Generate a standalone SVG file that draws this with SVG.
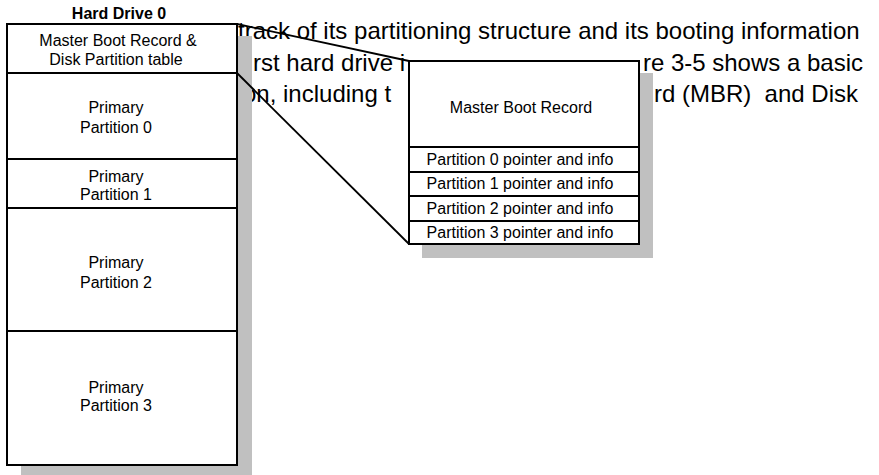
<svg xmlns="http://www.w3.org/2000/svg" width="879" height="475" viewBox="0 0 879 475">
<style>
.body{font-family:"Liberation Sans",Arial,sans-serif;font-size:24px;fill:#000;white-space:pre}
.lbl{font-family:"Liberation Sans",Arial,sans-serif;font-size:16px;fill:#000;text-anchor:middle}
.ttl{font-family:"Liberation Sans",Arial,sans-serif;font-size:16px;font-weight:bold;fill:#000;text-anchor:middle}
.box{fill:#fff;stroke:#000;stroke-width:2}
.div{stroke:#000;stroke-width:2;fill:none}
.shadow{fill:#c0c0c0}
.conn{stroke:#000;stroke-width:1.8;fill:none}
</style>
<rect width="879" height="475" fill="#fff"/>
<g id="background-text">
<text class="body" x="238" y="39">track of its partitioning structure and its booting information</text>
<text class="body" x="253" y="71">rst hard drive i</text>
<text class="body" x="863" y="71" text-anchor="end">re 3-5 shows a basic</text>
<text class="body" x="243" y="102">on, including t</text>
<text class="body" x="858" y="102" text-anchor="end">rd (MBR)  and Disk</text>
</g>
<g id="hard-drive-0">
<text class="ttl" x="119" y="19">Hard Drive 0</text>
<rect class="shadow" x="21" y="36" width="231" height="441"/>
<rect class="box" x="7" y="24" width="230" height="441"/>
<line class="div" x1="7" y1="73" x2="237" y2="73"/>
<line class="div" x1="7" y1="159" x2="237" y2="159"/>
<line class="div" x1="7" y1="208" x2="237" y2="208"/>
<line class="div" x1="7" y1="331" x2="237" y2="331"/>
<text class="lbl" x="118" y="46">Master Boot Record &amp;</text>
<text class="lbl" x="116" y="65">Disk Partition table</text>
<text class="lbl" x="116" y="113">Primary</text>
<text class="lbl" x="116" y="133">Partition 0</text>
<text class="lbl" x="116" y="182">Primary</text>
<text class="lbl" x="116" y="200">Partition 1</text>
<text class="lbl" x="116" y="268">Primary</text>
<text class="lbl" x="116" y="288">Partition 2</text>
<text class="lbl" x="116" y="393">Primary</text>
<text class="lbl" x="116" y="411">Partition 3</text>
</g>
<g id="mbr-detail">
<rect class="shadow" x="422" y="73" width="231" height="185"/>
<rect class="box" x="409" y="61" width="230" height="183"/>
<line class="div" x1="409" y1="147" x2="639" y2="147"/>
<line class="div" x1="409" y1="172" x2="639" y2="172"/>
<line class="div" x1="409" y1="196" x2="639" y2="196"/>
<line class="div" x1="409" y1="221" x2="639" y2="221"/>
<text class="lbl" x="521" y="113">Master Boot Record</text>
<text class="lbl" x="520" y="165">Partition 0 pointer and info</text>
<text class="lbl" x="520" y="189">Partition 1 pointer and info</text>
<text class="lbl" x="520" y="214">Partition 2 pointer and info</text>
<text class="lbl" x="520" y="238">Partition 3 pointer and info</text>
</g>
<g id="connectors">
<line class="conn" x1="237" y1="24" x2="409" y2="61"/>
<line class="conn" x1="237" y1="73" x2="409" y2="244"/>
</g>
</svg>
